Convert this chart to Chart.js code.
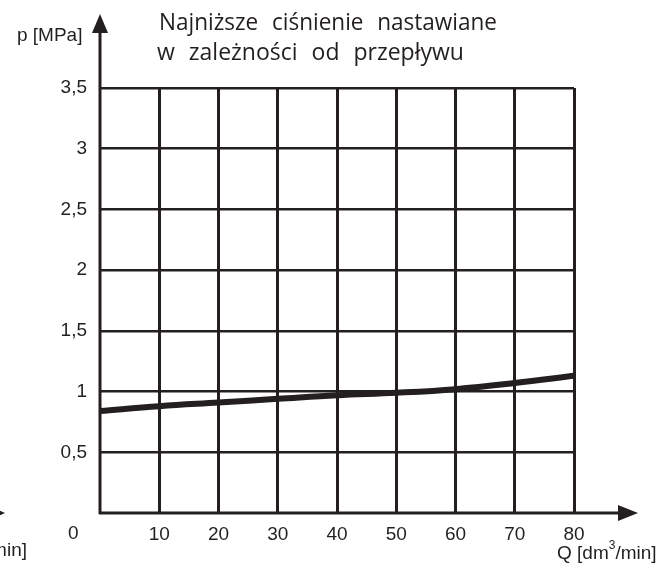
<!DOCTYPE html>
<html>
<head>
<meta charset="utf-8">
<script src="https://cdn.jsdelivr.net/npm/chart.js@4.4.1/dist/chart.umd.min.js"></script>
<style>
  html, body { margin: 0; padding: 0; background: #fff; }
  #wrap { width: 672px; height: 566px; }
</style>
</head>
<body>
<div id="wrap"><canvas id="myChart" width="672" height="566"></canvas></div>
<script>
// values
const flowQ = [0, 10, 20, 30, 40, 50, 60, 70, 80];
const pressure = [0.84, 0.88, 0.91, 0.94, 0.97, 0.99, 1.02, 1.07, 1.13];
const titleLines = ['Najniższe ciśnienie nastawiane', 'w zależności od przepływu'];
const yTitle = 'p [MPa]';
const xTitle = 'Q [dm';
const xTitleRest = '/min]';

const INK = '#231f20';
const LABEL_FAMILY = '"Liberation Sans", Arial, sans-serif';
const LABEL_FONT = '19px ' + LABEL_FAMILY;

const decorations = {
    id: 'decorations',
    afterDraw(chart) {
        const ctx = chart.ctx;
        const x0 = chart.scales.x.getPixelForValue(0);
        const y0 = chart.scales.y.getPixelForValue(0);
        ctx.save();
        ctx.fillStyle = INK;
        ctx.strokeStyle = INK;

        // axes with arrows
        ctx.lineWidth = 3;
        ctx.beginPath();
        ctx.moveTo(x0, y0 + 1);
        ctx.lineTo(x0, 30);
        ctx.moveTo(x0 - 1, y0);
        ctx.lineTo(622, y0);
        ctx.stroke();

        ctx.beginPath();
        ctx.moveTo(x0, 14);
        ctx.lineTo(x0 - 8, 33);
        ctx.lineTo(x0 + 8, 33);
        ctx.closePath();
        ctx.fill();

        ctx.beginPath();
        ctx.moveTo(638, y0);
        ctx.lineTo(618, y0 - 8);
        ctx.lineTo(618, y0 + 8);
        ctx.closePath();
        ctx.fill();

        // cropped neighbour arrow on the far left
        ctx.beginPath();
        ctx.moveTo(5, y0);
        ctx.lineTo(-13, y0 - 8);
        ctx.lineTo(-13, y0 + 8);
        ctx.closePath();
        ctx.fill();

        // title
        ctx.font = '23px "Open Sans", Lato, sans-serif';
        ctx.textAlign = 'left';
        ctx.textBaseline = 'alphabetic';
        ctx.wordSpacing = '8px';
        ctx.fillText(titleLines[0], 159, 30, 338);
        ctx.fillText(titleLines[1], 157, 60, 311);
        ctx.wordSpacing = '0px';

        // axis titles
        ctx.font = LABEL_FONT;
        ctx.fillText(yTitle, 17, 41);
        ctx.fillText('0', x0 - 32, 539);
        ctx.fillText(xTitle, 557, 559);
        const w1 = ctx.measureText(xTitle).width;
        ctx.font = '12px ' + LABEL_FAMILY;
        ctx.fillText('3', 557 + w1, 549);
        const w2 = ctx.measureText('3').width;
        ctx.font = LABEL_FONT;
        ctx.fillText(xTitleRest, 557 + w1 + w2, 559);

        ctx.textAlign = 'right';
        ctx.fillText('min]', 27, 556);
        ctx.restore();
    }
};

const ctx = document.getElementById('myChart').getContext('2d');
new Chart(ctx, {
    type: 'line',
    data: {
        datasets: [{
            label: 'p',
            data: flowQ.map((q, i) => ({ x: q, y: pressure[i] })),
            borderColor: INK,
            borderWidth: 6,
            tension: 0.4,
            pointRadius: 0,
            fill: false
        }]
    },
    options: {
        responsive: false,
        animation: false,
        devicePixelRatio: 1,
        layout: { padding: { top: 88, right: 98, left: 0, bottom: 0 } },
        plugins: {
            legend: { display: false },
            tooltip: { enabled: false }
        },
        scales: {
            x: {
                type: 'linear',
                min: 0,
                max: 80,
                afterFit: s => { s.height = 53; },
                border: { display: false },
                grid: {
                    drawTicks: false,
                    lineWidth: 3,
                    color: c => c.tick && c.tick.value === 0 ? 'rgba(0,0,0,0)' : INK
                },
                ticks: {
                    stepSize: 10,
                    padding: 10,
                    color: INK,
                    font: { family: LABEL_FAMILY, size: 19 },
                    callback: v => v === 0 ? '' : String(v)
                }
            },
            y: {
                min: 0,
                max: 3.5,
                afterFit: s => { s.width = 100; },
                border: { display: false },
                grid: {
                    drawTicks: false,
                    lineWidth: 2.5,
                    color: c => c.tick && c.tick.value === 0 ? 'rgba(0,0,0,0)' : INK
                },
                ticks: {
                    stepSize: 0.5,
                    padding: 13,
                    color: INK,
                    font: { family: LABEL_FAMILY, size: 19 },
                    callback: v => v === 0 ? '' : String(v).replace('.', ',')
                }
            }
        }
    },
    plugins: [decorations]
});
</script>
</body>
</html>
